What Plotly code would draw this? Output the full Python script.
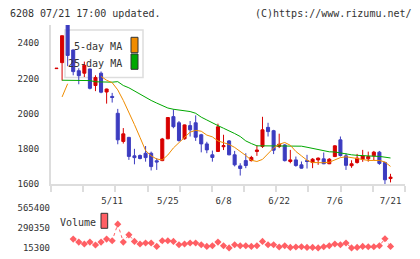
import plotly.graph_objects as go
import numpy as np

# ---------------- data ----------------
idx = list(range(61))
opens = [2256, 2290, 2520, 2362, 2244, 2230, 2254, 2160, 2230, 2123,
         2098, 2002, 1842, 1865, 1760, 1762, 1775, 1775, 1732, 1733,
         1857, 1983, 1948, 1857, 1932, 1948, 1880, 1828, 1766, 1785,
         1812, 1845, 1766, 1703, 1733, 1733, 1785, 1813, 1922, 1903,
         1813, 1822, 1728, 1737, 1709, 1733, 1722, 1737, 1743, 1715,
         1756, 1851, 1760, 1704, 1722, 1741, 1743, 1760, 1781, 1722,
         1631]
highs = [2259, 2443, 2540, 2365, 2258, 2296, 2256, 2218, 2240, 2142,
         2118, 2027, 1918, 1868, 1800, 1768, 1816, 1784, 1747, 1862,
         1980, 2025, 1958, 1938, 1958, 1990, 1885, 1840, 1790, 1943,
         1880, 1850, 1788, 1718, 1775, 1760, 1820, 1982, 1948, 1908,
         1886, 1826, 1794, 1756, 1728, 1766, 1747, 1751, 1779, 1747,
         1820, 1870, 1775, 1735, 1771, 1794, 1784, 1788, 1788, 1727,
         1658]
lows = [2255, 2188, 2270, 2218, 2167, 2208, 2138, 2128, 2116, 2057,
        2063, 1826, 1830, 1737, 1712, 1740, 1727, 1677, 1680, 1730,
        1855, 1917, 1841, 1852, 1870, 1845, 1780, 1775, 1727, 1783,
        1793, 1763, 1700, 1648, 1690, 1728, 1760, 1805, 1870, 1770,
        1804, 1728, 1718, 1698, 1688, 1688, 1690, 1709, 1713, 1713,
        1753, 1756, 1680, 1692, 1716, 1726, 1727, 1735, 1709, 1597,
        1609]
closes = [2258, 2443, 2331, 2239, 2216, 2275, 2144, 2205, 2122, 2140,
          2092, 1851, 1885, 1757, 1750, 1745, 1750, 1699, 1725, 1856,
          1978, 1926, 1847, 1936, 1908, 1866, 1828, 1794, 1751, 1925,
          1818, 1766, 1709, 1688, 1705, 1751, 1793, 1908, 1898, 1792,
          1826, 1733, 1737, 1705, 1690, 1728, 1741, 1747, 1715, 1741,
          1817, 1762, 1706, 1715, 1747, 1760, 1756, 1781, 1717, 1624,
          1639]
# 5-day MA (None where hidden by the legend box)
ma5 = [None, 2095, 2170, None, None, None, None, None, 2212, 2190,
       2176, 2135, 2075, 2010, 1938, 1865, 1790, 1760, 1742, 1737,
       1765, 1805, 1835, 1865, 1895, 1905, 1900, 1878, 1868, 1845,
       1836, 1825, 1808, 1787, 1762, 1735, 1728, 1740, 1775, 1805,
       1826, 1836, 1820, 1785, 1760, 1735, 1722, 1720, 1721, 1724,
       1738, 1750, 1755, 1748, 1745, 1739, 1734, 1734, 1734, 1725,
       1700]
ma25 = [None, 2190, 2190, 2190, 2190, 2189, 2188, 2181, 2180, 2179,
        2179, 2182, 2160, 2147, 2128, 2112, 2093, 2075, 2060, 2046,
        2032, 2025, 2022, 2018, 2012, 2002, 1980, 1964, 1950, 1932,
        1917, 1904, 1887, 1870, 1845, 1830, 1817, 1817, 1817, 1817,
        1817, 1817, 1817, 1817, 1815, 1809, 1802, 1795, 1787, 1783,
        1782, 1776, 1770, 1766, 1763, 1760, 1758, 1758, 1757, 1754,
        1748]
volume = [None, None, None, 139000, 97800, 70300, 97800, 56600, 97800, 139000,
          115700, 345400, 97800, 198200, 106100, 70300, 84100, 84100, 37300, 115700,
          115700, 106100, 60700, 70300, 84100, 84100, 60700, 37300, 46900, 97800,
          46900, 16500, 60700, 46900, 46900, 37300, 46900, 106100, 60700, 60700,
          29000, 46900, 23600, 29000, 33200, 23600, 23600, 16000, 33200, 46900,
          70300, 60700, 84100, 16000, 23600, 37300, 33200, 33200, 46900, 143200,
          37300]
label_idx = [10, 20, 30, 40, 50, 60]
label_txt = ["5/11", "5/25", "6/8", "6/22", "7/6", "7/21"]
price_ticks = [1600, 1800, 2000, 2200, 2400]
vol_ticks = [15300, 290350, 565400]

# ---------------- layout geometry ----------------
W, H = 420, 259
ML, MR, MT, MB = 51, 15, 25, 11
PW, PH = W - ML - MR, H - MT - MB


def fx(px):
    return (px - ML) / PW


def fy(py):
    return (H - MB - py) / PH


RED = "#d70000"
BLUE = "#3c3cc0"
ORANGE = "#f08c00"
GREEN = "#00a800"
VOLC = "#ff5f64"
MONO = "DejaVu Sans Mono"

xr = [-0.99, 62.6]

fig = go.Figure()
fig.add_trace(go.Scatter(x=idx, y=ma25, mode="lines", line=dict(color=GREEN, width=1),
                         connectgaps=False, hoverinfo="skip"))
fig.add_trace(go.Scatter(x=idx, y=ma5, mode="lines", line=dict(color=ORANGE, width=1),
                         connectgaps=False, hoverinfo="skip"))
fig.add_trace(go.Candlestick(
    x=idx, open=opens, high=highs, low=lows, close=closes,
    increasing=dict(line=dict(color=RED, width=1), fillcolor=RED),
    decreasing=dict(line=dict(color=BLUE, width=1), fillcolor=BLUE),
    whiskerwidth=0, xaxis="x", yaxis="y"))
fig.add_trace(go.Scatter(
    x=idx, y=volume, xaxis="x2", yaxis="y2", mode="lines+markers",
    line=dict(color=VOLC, width=1, dash="dot"),
    marker=dict(symbol="diamond", size=5.5, color=VOLC),
    cliponaxis=False, hoverinfo="skip"))

fig.update_layout(
    width=W, height=H, margin=dict(l=ML, r=MR, t=MT, b=MB, autoexpand=False),
    paper_bgcolor="white", plot_bgcolor="white", showlegend=False,
    boxgap=0.22,
    xaxis=dict(domain=[0, 1], range=xr, anchor="y", showgrid=False, zeroline=False,
               automargin=False,
               showline=True, linecolor="#dddddd", linewidth=2,
               tickmode="array", tickvals=label_idx, ticktext=label_txt,
               ticks="", ticklabelstandoff=7,
               tickfont=dict(family=MONO, size=9, color="#333333"),
               minor=dict(tickmode="array", tickvals=list(np.linspace(xr[0], xr[1], 12)),
                          ticks="outside", ticklen=6, tickwidth=2, tickcolor="#dddddd"),
               rangeslider=dict(visible=False), fixedrange=True),
    yaxis=dict(domain=[fy(184), 1], range=[1600, 2504], showgrid=False, zeroline=False,
               automargin=False,
               showline=True, linecolor="#dddddd", linewidth=2,
               tickmode="array", tickvals=price_ticks, ticks="", ticklabelstandoff=8,
               tickfont=dict(family=MONO, size=9, color="#333333")),
    xaxis2=dict(domain=[0, 1], range=xr, anchor="y2", visible=False, matches="x",
                automargin=False),
    yaxis2=dict(domain=[0, fy(208.3)], range=[15300, 565400], anchor="x2",
                automargin=False,
                showgrid=False, zeroline=False, showline=False,
                tickmode="array", tickvals=vol_ticks, ticktext=[str(v) for v in vol_ticks],
                ticks="", ticklabelstandoff=0,
                tickfont=dict(family=MONO, size=9, color="#333333")),
)

shapes = [
    # MA legend box
    dict(type="rect", xref="paper", yref="paper", x0=fx(65), x1=fx(143), y0=fy(77.5), y1=fy(30),
         fillcolor="white", line=dict(color="#dddddd", width=1.5), layer="below"),
    dict(type="rect", xref="paper", yref="paper", x0=fx(131), x1=fx(138), y0=fy(52.7), y1=fy(37.3),
         fillcolor=ORANGE, line=dict(color="#333333", width=1), layer="above"),
    dict(type="rect", xref="paper", yref="paper", x0=fx(131), x1=fx(138), y0=fy(69.3), y1=fy(54),
         fillcolor=GREEN, line=dict(color="#333333", width=1), layer="above"),
    # Volume legend swatch
    dict(type="rect", xref="paper", yref="paper", x0=fx(101), x1=fx(107.7), y0=fy(228.3), y1=fy(213.3),
         fillcolor=VOLC, line=dict(color="#333333", width=1), layer="above"),
]
fig.update_layout(shapes=shapes)

ann = [
    dict(text="6208 07/21 17:00 updated.", x=fx(8), y=fy(13), xanchor="left"),
    dict(text="(C)https://www.rizumu.net/", x=fx(414), y=fy(13), xanchor="right"),
    dict(text="5-day MA", x=fx(124), y=fy(46), xanchor="right"),
    dict(text="25-day MA", x=fx(124), y=fy(63), xanchor="right"),
    dict(text="Volume", x=fx(57.5), y=fy(222), xanchor="left"),
]
fig.update_layout(annotations=[
    dict(a, xref="paper", yref="paper", yanchor="middle", showarrow=False,
         font=dict(family=MONO, size=10, color="#333333")) for a in ann])

fig.write_html("out.html")
